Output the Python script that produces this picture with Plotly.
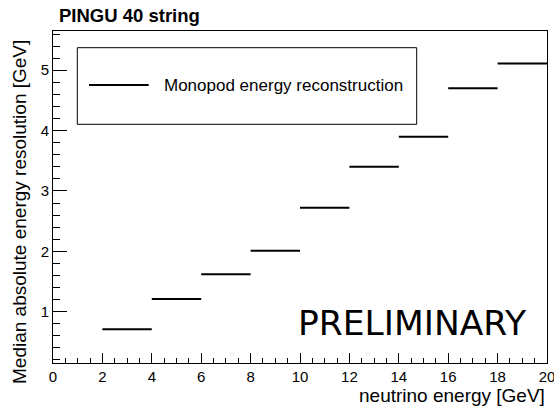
import plotly.graph_objects as go

# Data
bin_low = [2, 4, 6, 8, 10, 12, 14, 16, 18]
bin_high = [4, 6, 8, 10, 12, 14, 16, 18, 20]
resolution = [0.71, 1.21, 1.62, 2.01, 2.72, 3.40, 3.90, 4.70, 5.11]
series_name = "Monopod energy reconstruction"
x_ticks = [0, 2, 4, 6, 8, 10, 12, 14, 16, 18, 20]
y_ticks = [1, 2, 3, 4, 5]

xs, ys = [], []
for lo, hi, v in zip(bin_low, bin_high, resolution):
    xs += [lo, hi, None]
    ys += [v, v, None]

FONT = "Liberation Sans, Arial, Helvetica, sans-serif"

fig = go.Figure()
fig.add_trace(go.Scatter(x=xs, y=ys, mode="lines", name=series_name,
                         line=dict(color="black", width=2), showlegend=False,
                         connectgaps=False))

W, H = 554, 412
L, R, T, B = 53, 7, 31, 49
pw, ph = W - L - R, H - T - B


def px(xp):
    return (xp - L) / pw


def py(yp):
    return (H - B - yp) / ph


fig.update_layout(
    width=W, height=H,
    margin=dict(l=L, r=R, t=T, b=B, autoexpand=False),
    paper_bgcolor="white", plot_bgcolor="white",
    font=dict(family=FONT, color="black", size=15),
    xaxis=dict(range=[0, 20], tickvals=x_ticks, ticks="inside", ticklen=10,
               tickcolor="black", tickwidth=1, showgrid=False, zeroline=False,
               showline=True, linecolor="black", linewidth=1, mirror=True,
               tickfont=dict(size=15, family=FONT), ticklabeloverflow="allow",
               automargin=False,
               minor=dict(dtick=0.5, tick0=0, ticks="inside", ticklen=5,
                          tickcolor="black", showgrid=False)),
    yaxis=dict(range=[0.15, 5.65], tickvals=y_ticks, ticks="inside", ticklen=14,
               tickcolor="black", tickwidth=1, showgrid=False, zeroline=False,
               showline=True, linecolor="black", linewidth=1, mirror=True,
               tickfont=dict(size=15, family=FONT), automargin=False,
               minor=dict(dtick=0.2, tick0=0, ticks="inside", ticklen=7,
                          tickcolor="black", showgrid=False)),
    showlegend=False,
)

# Legend box
fig.add_shape(type="rect", xref="paper", yref="paper",
              x0=px(77.3), x1=px(416.7), y0=py(124.3), y1=py(47.7),
              line=dict(color="black", width=1), fillcolor="white", layer="above")
fig.add_shape(type="line", xref="paper", yref="paper",
              x0=px(89), x1=px(148.7), y0=py(85), y1=py(85),
              line=dict(color="black", width=2), layer="above")
fig.add_annotation(xref="paper", yref="paper", x=px(162), y=py(85),
                   xanchor="left", yanchor="middle", showarrow=False,
                   text=series_name, font=dict(size=17, family=FONT))

# Title
fig.add_annotation(xref="paper", yref="paper", x=px(57), y=py(15),
                   xanchor="left", yanchor="middle", showarrow=False,
                   text="<b>PINGU 40 string</b>", font=dict(size=18.5, family=FONT))

# Axis titles
fig.add_annotation(xref="paper", yref="paper", x=1.0, y=py(396),
                   xanchor="right", yanchor="middle", showarrow=False,
                   text="neutrino energy [GeV]", font=dict(size=19, family=FONT))
fig.add_annotation(xref="paper", yref="paper", x=px(19), y=py(38),
                   xanchor="center", yanchor="top", showarrow=False, textangle=-90,
                   text="Median absolute energy resolution [GeV]",
                   font=dict(size=19, family=FONT))

# Watermark
fig.add_annotation(xref="paper", yref="paper", x=px(296), y=py(323),
                   xanchor="left", yanchor="middle", showarrow=False,
                   text="PRELIMINARY", font=dict(size=34.5, family="DejaVu Sans"))

fig.write_html("out.html", config={"displayModeBar": False},
               post_script="document.body.style.margin='0';document.body.style.overflow='hidden';")
